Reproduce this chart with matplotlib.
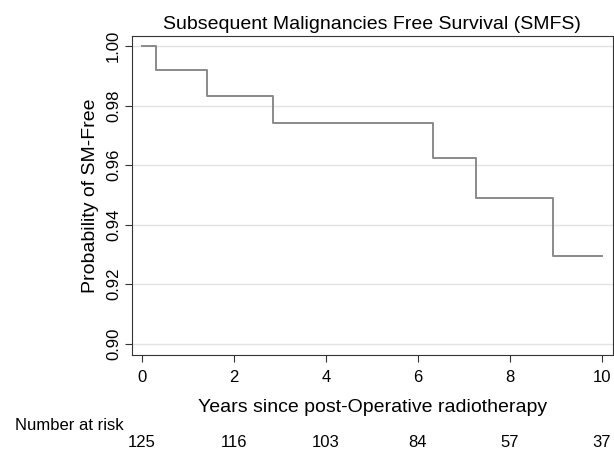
import matplotlib.pyplot as plt
from matplotlib.transforms import blended_transform_factory

plt.rcParams['font.family'] = ['Liberation Sans', 'DejaVu Sans']

# step times (years) and survival levels
times = [0, 0.32, 1.43, 2.86, 6.33, 7.27, 8.93, 10.0]
surv = [1.0, 0.992, 0.9833, 0.9742, 0.9625, 0.9490, 0.9293, 0.9293]

risk_times = [0, 2, 4, 6, 8, 10]
at_risk = [125, 116, 103, 84, 57, 37]

yticks = [0.90, 0.92, 0.94, 0.96, 0.98, 1.00]

fig = plt.figure(figsize=(6.14, 4.49), dpi=100)
ax = fig.add_axes([0.215, 0.2094, 0.7826, 0.7104])

for y in yticks:
    ax.axhline(y, color='#e3e3e3', lw=1, zorder=0)
ax.step(times, surv, where='post', color='#8a8a8a', lw=1.4)

ax.set_xlim(-0.21, 10.23)
ax.set_ylim(0.8962, 1.00336)
ax.set_xticks(risk_times)
ax.set_yticks(yticks)
ax.set_yticklabels(['%.2f' % y for y in yticks], rotation=90, va='center')
ax.tick_params(direction='out', length=5, labelsize=12, color='#333333')
ax.tick_params(axis='x', pad=6)
ax.tick_params(axis='y', pad=3)
for s in ax.spines.values():
    s.set_color('#333333')

ax.set_title('Subsequent Malignancies Free Survival (SMFS)', fontsize=14, pad=5)
ax.set_ylabel('Probability of SM-Free', fontsize=14, labelpad=5)
ax.set_xlabel('Years since post-Operative radiotherapy', fontsize=14, labelpad=10)

fig.text(0.025, 1 - 425 / 449, 'Number at risk', fontsize=12, va='center')
tr = blended_transform_factory(ax.transData, fig.transFigure)
for t, n in zip(risk_times, at_risk):
    ax.text(t, 2 / 449, str(n), transform=tr, ha='center', va='baseline', fontsize=12)

fig.savefig('out.png', dpi=100)
